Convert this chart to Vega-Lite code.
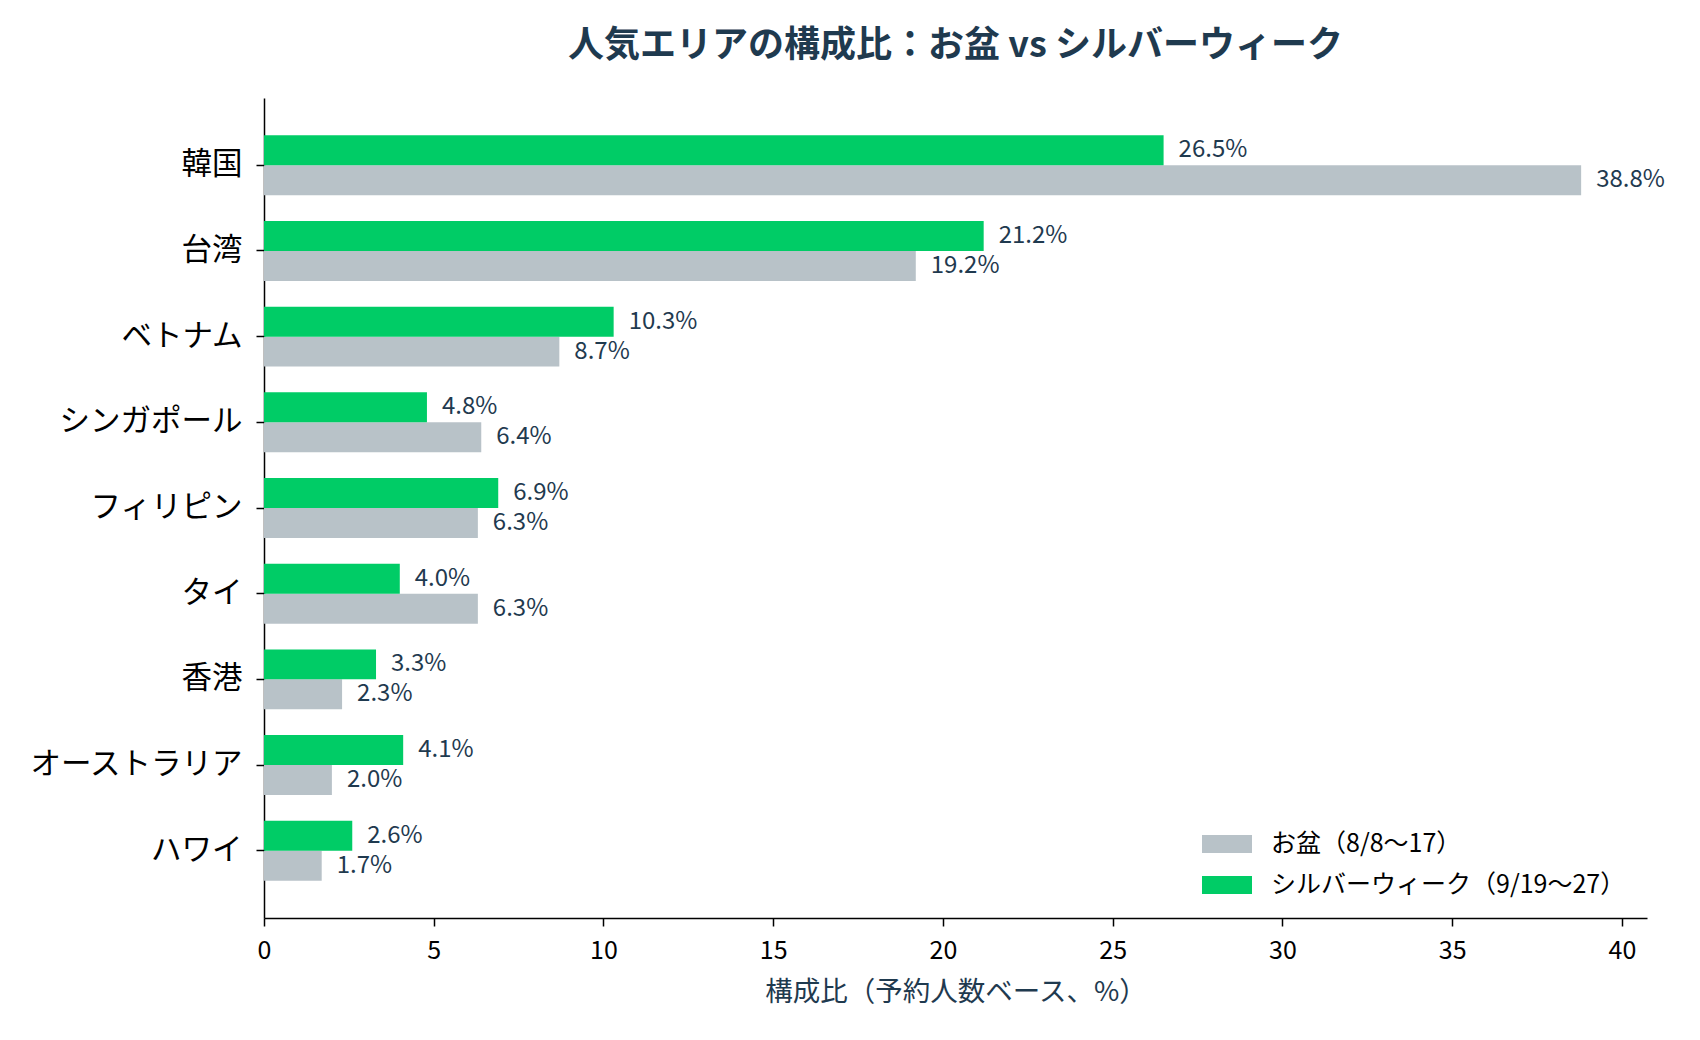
{
  "$schema": "https://vega.github.io/schema/vega-lite/v6.json",
  "autosize": {"type": "none"},
  "padding": {"left": 264, "top": 98, "right": 44, "bottom": 117},
  "width": 1383,
  "height": 820,
  "background": "white",
  "title": {
    "text": "人気エリアの構成比：お盆 vs シルバーウィーク",
    "font": "Noto Sans CJK JP",
    "fontSize": 36,
    "fontWeight": "bold",
    "color": "#1f3a4f",
    "anchor": "middle",
    "offset": 33
  },
  "data": {
    "values": [
      {"area": "韓国", "period": "お盆（8/8〜17）", "value": 38.8},
      {"area": "韓国", "period": "シルバーウィーク（9/19〜27）", "value": 26.5},
      {"area": "台湾", "period": "お盆（8/8〜17）", "value": 19.2},
      {"area": "台湾", "period": "シルバーウィーク（9/19〜27）", "value": 21.2},
      {"area": "ベトナム", "period": "お盆（8/8〜17）", "value": 8.7},
      {"area": "ベトナム", "period": "シルバーウィーク（9/19〜27）", "value": 10.3},
      {"area": "シンガポール", "period": "お盆（8/8〜17）", "value": 6.4},
      {"area": "シンガポール", "period": "シルバーウィーク（9/19〜27）", "value": 4.8},
      {"area": "フィリピン", "period": "お盆（8/8〜17）", "value": 6.3},
      {"area": "フィリピン", "period": "シルバーウィーク（9/19〜27）", "value": 6.9},
      {"area": "タイ", "period": "お盆（8/8〜17）", "value": 6.3},
      {"area": "タイ", "period": "シルバーウィーク（9/19〜27）", "value": 4.0},
      {"area": "香港", "period": "お盆（8/8〜17）", "value": 2.3},
      {"area": "香港", "period": "シルバーウィーク（9/19〜27）", "value": 3.3},
      {"area": "オーストラリア", "period": "お盆（8/8〜17）", "value": 2.0},
      {"area": "オーストラリア", "period": "シルバーウィーク（9/19〜27）", "value": 4.1},
      {"area": "ハワイ", "period": "お盆（8/8〜17）", "value": 1.7},
      {"area": "ハワイ", "period": "シルバーウィーク（9/19〜27）", "value": 2.6}
    ]
  },
  "transform": [
    {"calculate": "format(datum.value, '.1f') + '%'", "as": "label"}
  ],
  "encoding": {
    "y": {
      "field": "area",
      "type": "nominal",
      "sort": ["韓国", "台湾", "ベトナム", "シンガポール", "フィリピン", "タイ", "香港", "オーストラリア", "ハワイ"],
      "scale": {"paddingInner": 0.3, "paddingOuter": 0.435},
      "axis": {
        "title": null,
        "labelFont": "Noto Sans CJK JP",
        "labelFontSize": 30.5,
        "labelLimit": 400,
        "labelColor": "#000000",
        "labelPadding": 14,
        "tickSize": 8,
        "tickColor": "#000000",
        "tickWidth": 1.5,
        "domainColor": "#000000",
        "domainWidth": 1.5,
        "grid": false
      }
    },
    "yOffset": {
      "field": "period",
      "type": "nominal",
      "scale": {
        "domain": ["シルバーウィーク（9/19〜27）", "お盆（8/8〜17）"],
        "paddingInner": 0,
        "paddingOuter": 0
      }
    },
    "x": {
      "field": "value",
      "type": "quantitative",
      "scale": {"domain": [0, 40.74], "nice": false, "zero": true},
      "axis": {
        "title": "構成比（予約人数ベース、%）",
        "titleFont": "Noto Sans CJK JP",
        "titleFontSize": 27.5,
        "titleFontWeight": "normal",
        "titleColor": "#1f3a4f",
        "titlePadding": 15,
        "values": [0, 5, 10, 15, 20, 25, 30, 35, 40],
        "labelFont": "Noto Sans CJK JP",
        "labelFontSize": 25,
        "labelColor": "#000000",
        "labelPadding": 12,
        "labelFlush": false,
        "tickSize": 8,
        "tickColor": "#000000",
        "tickWidth": 1.5,
        "domainColor": "#000000",
        "domainWidth": 1.5,
        "grid": false
      }
    }
  },
  "layer": [
    {
      "mark": {"type": "bar", "cornerRadius": 0},
      "encoding": {
        "color": {
          "field": "period",
          "type": "nominal",
          "scale": {
            "domain": ["お盆（8/8〜17）", "シルバーウィーク（9/19〜27）"],
            "range": ["#b8c2c8", "#00cc66"]
          },
          "legend": {
            "title": null,
            "orient": "none",
            "legendX": 938,
            "legendY": 721,
            "symbolType": "M-1,-0.36L1,-0.36L1,0.36L-1,0.36Z",
            "symbolSize": 2500,
            "symbolStrokeWidth": 0,
            "labelFont": "Noto Sans CJK JP",
            "labelFontSize": 25,
            "labelLimit": 500,
            "labelColor": "#000000",
            "labelOffset": 19,
            "rowPadding": 3
          }
        }
      }
    },
    {
      "mark": {
        "type": "text",
        "align": "left",
        "baseline": "middle",
        "dx": 15,
        "font": "Noto Sans CJK JP",
        "fontSize": 24,
        "color": "#1f3a4f"
      },
      "encoding": {
        "text": {"field": "label", "type": "nominal"}
      }
    }
  ],
  "config": {
    "view": {"stroke": null}
  }
}
